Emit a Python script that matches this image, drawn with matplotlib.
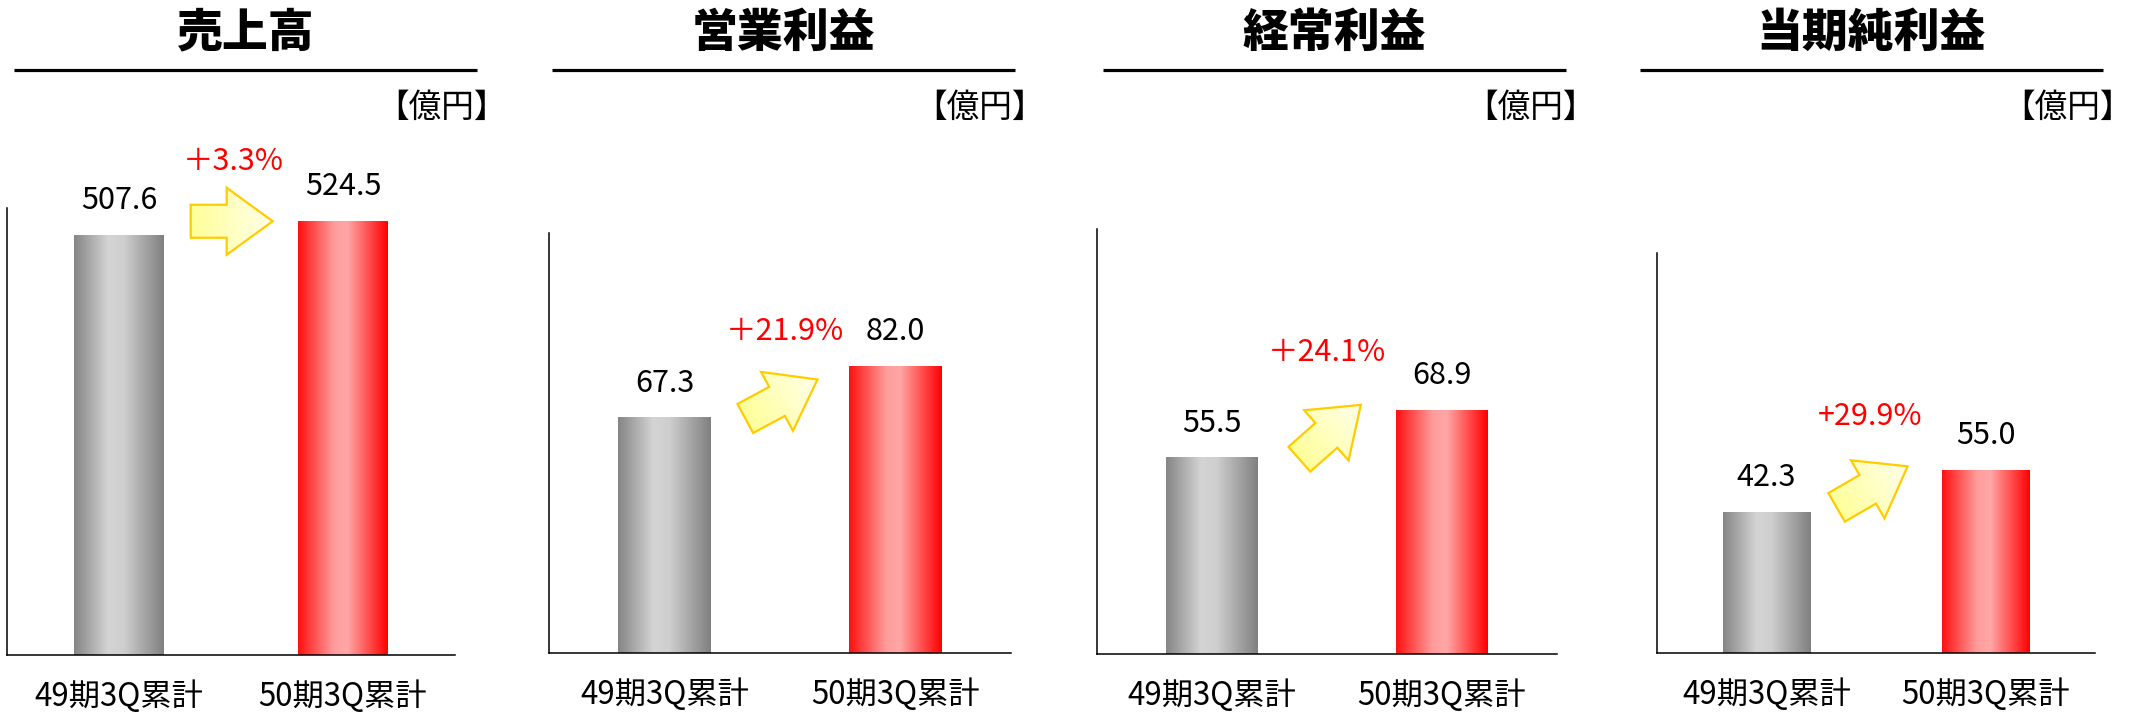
"""
Four-panel comparison of 3Q cumulative results (49期 vs 50期)
"""
import numpy as np
import matplotlib.pyplot as plt
from matplotlib.colors import LinearSegmentedColormap
from matplotlib.patches import Polygon

plt.rcParams['font.family'] = ['Noto Sans CJK JP', 'DejaVu Sans']

# data
titles = ['売上高', '営業利益', '経常利益', '当期純利益']
periods = ['49期3Q累計', '50期3Q累計']
prev_values = [507.6, 67.3, 55.5, 42.3]
curr_values = [524.5, 82.0, 68.9, 55.0]
growth_labels = ['＋3.3%', '＋21.9%', '＋24.1%', '+29.9%']
unit_label = '【億円】'

# layout (pixels, y measured from the top of the figure)
W, H = 2129, 715
axes_px = [(7, 455, 208, 655), (549, 1011, 233, 653),
           (1097, 1557, 229, 654), (1657, 2095, 253, 653)]
header_px = [(14, 477), (552, 1015), (1103, 1566), (1640, 2103)]
y_max = [540, 120, 120, 120]
growth_pos = [(0.51, 596), (0.52, 92), (0.50, 85), (0.475, 71)]
arrow_tail = [(0.32, 524), (0.35, 67), (0.38, 55), (0.32, 43.7)]
arrow_angle = [0, 28.4, 41.5, 30]

gray_cmap = LinearSegmentedColormap.from_list(
    'gray_bar', [(0, '#858585'), (0.38, '#d4d4d4'), (0.55, '#cfcfcf'), (1, '#808080')])
red_cmap = LinearSegmentedColormap.from_list(
    'red_bar', [(0, '#ff1010'), (0.4, '#ff9c9c'), (0.55, '#ffa6a6'), (1, '#ff0000')])
arrow_cmap = LinearSegmentedColormap.from_list('arrow', ['#ffff9a', '#ffffea'])
grad = np.linspace(0, 1, 256).reshape(1, -1)
bar_width = 0.4


def gradient_bar(ax, x, h, cmap):
    bar = ax.bar(x, h, width=bar_width, color='none', edgecolor='none')[0]
    im = ax.imshow(grad, cmap=cmap, aspect='auto', origin='lower', zorder=2,
                   extent=(x - bar_width / 2, x + bar_width / 2, 0, h))
    im.set_clip_path(bar)


def block_arrow(ax_px, tail, angle, length=82, shaft=33, head=67, head_len=46):
    """ yellow block arrow drawn in pixel coordinates """
    a = np.deg2rad(angle)
    u = np.array([np.cos(a), np.sin(a)])
    v = np.array([-np.sin(a), np.cos(a)])
    local = [(0, -shaft / 2), (length - head_len, -shaft / 2), (length - head_len, -head / 2),
             (length, 0), (length - head_len, head / 2), (length - head_len, shaft / 2),
             (0, shaft / 2)]
    pts = np.array([tail + s * u + t * v for s, t in local])
    poly = Polygon(pts, closed=True, facecolor='none', edgecolor='#ffcc00', lw=1.6, zorder=3)
    ax_px.add_patch(poly)

    x0, y0 = pts.min(axis=0)
    x1, y1 = pts.max(axis=0)
    X, Y = np.meshgrid(np.linspace(x0, x1, 100), np.linspace(y0, y1, 100))
    proj = ((X - tail[0]) * u[0] + (Y - tail[1]) * u[1]) / length
    im = ax_px.imshow(proj, cmap=arrow_cmap, origin='lower', aspect='auto',
                      extent=(x0, x1, y0, y1), vmin=0, vmax=1, zorder=2)
    im.set_clip_path(poly)


fig = plt.figure(figsize=(W / 100, H / 100), dpi=100)

panels = []
for k in range(4):
    left, right, top, bottom = axes_px[k]
    ax = fig.add_axes([left / W, 1 - bottom / H, (right - left) / W, (bottom - top) / H])
    gradient_bar(ax, 0, prev_values[k], gray_cmap)
    gradient_bar(ax, 1, curr_values[k], red_cmap)
    ax.set_xlim(-0.5, 1.5)
    ax.set_ylim(0, y_max[k])
    ax.set_xticks([])
    ax.set_yticks([])
    for side in ('top', 'right'):
        ax.spines[side].set_visible(False)
    for side in ('left', 'bottom'):
        ax.spines[side].set_linewidth(1.1)
        ax.spines[side].set_color('black')

    for i, val in enumerate([prev_values[k], curr_values[k]]):
        ax.annotate(f'{val:.1f}', xy=(i, val), xytext=(0, 24.5), textcoords='offset points',
                    ha='center', va='center', fontsize=22)
        ax.annotate(periods[i], xy=(i, 0), xytext=(0, -30), textcoords='offset points',
                    ha='center', va='center', fontsize=22.5)

    gx, gy = growth_pos[k]
    ax.text(gx, gy, growth_labels[k], color='#ff0000', ha='center', va='center',
            fontsize=22, clip_on=False)
    panels.append(ax)

# overlay in pixel coordinates for headers and arrows
ax_px = fig.add_axes([0, 0, 1, 1])
ax_px.set_xlim(0, W)
ax_px.set_ylim(0, H)
ax_px.axis('off')
ax_px.patch.set_alpha(0)

for k, ax in enumerate(panels):
    x0, x1 = header_px[k]
    ax_px.plot([x0, x1], [H - 70, H - 70], color='black', lw=2.3, solid_capstyle='butt')
    ax_px.text((x0 + x1) / 2, H - 33, titles[k], ha='center', va='center',
               fontsize=33, fontweight='heavy')
    ax_px.text(x1 + 30, H - 108, unit_label, ha='right', va='center', fontsize=23.5)

    tail = ax.transData.transform(arrow_tail[k])
    block_arrow(ax_px, np.array(tail), arrow_angle[k])

ax_px.set_xlim(0, W)
ax_px.set_ylim(0, H)

fig.savefig('out.png', dpi=100)
